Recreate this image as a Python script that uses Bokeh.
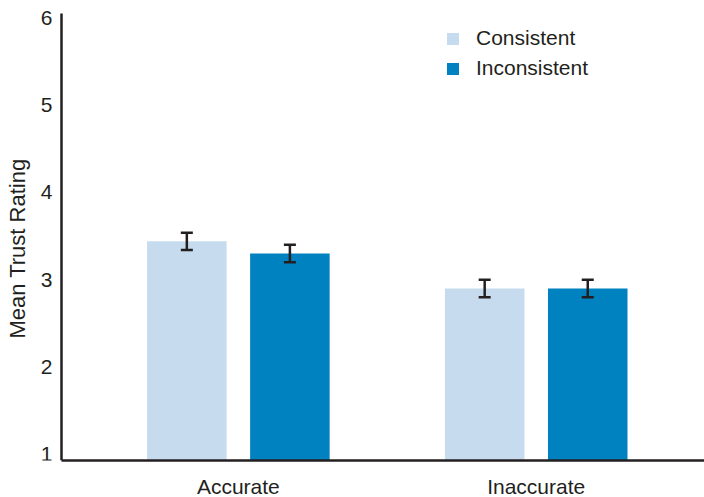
import math
from bokeh.plotting import figure
from bokeh.models import (ColumnDataSource, FixedTicker, Whisker, TeeHead, Range1d,
                          Legend, LegendItem, Label)
from bokeh.transform import dodge
from bokeh.embed import file_html
from bokeh.resources import INLINE

categories = ["Accurate", "Inaccurate"]
consistent = [3.44, 2.90]
inconsistent = [3.30, 2.90]
consistent_err = [0.10, 0.10]
inconsistent_err = [0.10, 0.10]
y_ticks = [1, 2, 3, 4, 5, 6]

FONT = "Liberation Sans"
DARK = "#231f20"
LIGHT_BLUE = "#c6dbee"
BLUE = "#0082c0"

Y_MIN, Y_MAX = 0.93, 6.05      # extent of the drawn y axis
X_AXIS_START = 0.406           # where the y axis sits (data units)

xpos = [i + 1 for i in range(len(categories))]
src = ColumnDataSource(dict(
    x=xpos,
    cons=consistent,
    incons=inconsistent,
    cons_up=[v + e for v, e in zip(consistent, consistent_err)],
    cons_lo=[v - e for v, e in zip(consistent, consistent_err)],
    inc_up=[v + e for v, e in zip(inconsistent, inconsistent_err)],
    inc_lo=[v - e for v, e in zip(inconsistent, inconsistent_err)],
))

p = figure(frame_width=704, frame_height=460,
           x_range=Range1d(0.2014, 2.565), y_range=Range1d(Y_MIN, 6.199),
           output_backend="svg", toolbar_location=None,
           min_border_left=0, min_border_top=0, min_border_bottom=37, min_border_right=0)
p.outline_line_color = None
p.grid.grid_line_color = None
p.background_fill_color = "white"

off = 0.173
w = 0.267
r1 = p.vbar(x=dodge("x", -off, range=p.x_range), top="cons", bottom=0, width=w,
            source=src, fill_color=LIGHT_BLUE, line_color=None)
r2 = p.vbar(x=dodge("x", off, range=p.x_range), top="incons", bottom=0, width=w,
            source=src, fill_color=BLUE, line_color=None)

for dx, up, lo in [(-off, "cons_up", "cons_lo"), (off, "inc_up", "inc_lo")]:
    wk = Whisker(base=dodge("x", dx, range=p.x_range), upper=up, lower=lo, source=src,
                 line_color=DARK, line_width=2.5, level="overlay",
                 upper_head=TeeHead(size=12, line_color=DARK, line_width=2.5),
                 lower_head=TeeHead(size=12, line_color=DARK, line_width=2.5))
    p.add_layout(wk)

# y axis placed at a fixed x inside the frame
p.yaxis.fixed_location = X_AXIS_START
p.yaxis.bounds = (Y_MIN, Y_MAX)
p.yaxis.ticker = FixedTicker(ticks=y_ticks)
p.yaxis.major_tick_line_color = None
p.yaxis.minor_tick_line_color = None
p.yaxis.axis_line_color = DARK
p.yaxis.axis_line_width = 2.5
p.yaxis.major_label_text_font = FONT
p.yaxis.major_label_text_font_size = "21px"
p.yaxis.major_label_text_color = DARK
p.yaxis.major_label_standoff = 3

p.xaxis.bounds = (X_AXIS_START, 2.565)
p.xaxis.ticker = FixedTicker(ticks=xpos)
p.xaxis.major_label_overrides = {x: c for x, c in zip(xpos, categories)}
p.xaxis.major_tick_line_color = None
p.xaxis.minor_tick_line_color = None
p.xaxis.axis_line_color = DARK
p.xaxis.axis_line_width = 2.5
p.xaxis.major_label_text_font = FONT
p.xaxis.major_label_text_font_size = "21px"
p.xaxis.major_label_text_color = DARK
p.xaxis.major_label_standoff = 8

ylab = Label(x=17, y=212, x_units="screen", y_units="screen", text="Mean Trust Rating",
             angle=math.pi / 2, text_align="center", text_baseline="middle",
             text_font=FONT, text_font_size="22px", text_color=DARK)
p.add_layout(ylab)

legend = Legend(items=[LegendItem(label="Consistent", renderers=[r1]),
                       LegendItem(label="Inconsistent", renderers=[r2])],
                location=(445, 377), orientation="vertical",
                glyph_width=15, glyph_height=15, label_height=30, spacing=0,
                label_standoff=16, padding=0, margin=0,
                label_text_font=FONT, label_text_font_size="21px", label_text_color=DARK,
                border_line_color=None, background_fill_alpha=0)
p.add_layout(legend)

open("out.html", "w").write(file_html(p, INLINE))
